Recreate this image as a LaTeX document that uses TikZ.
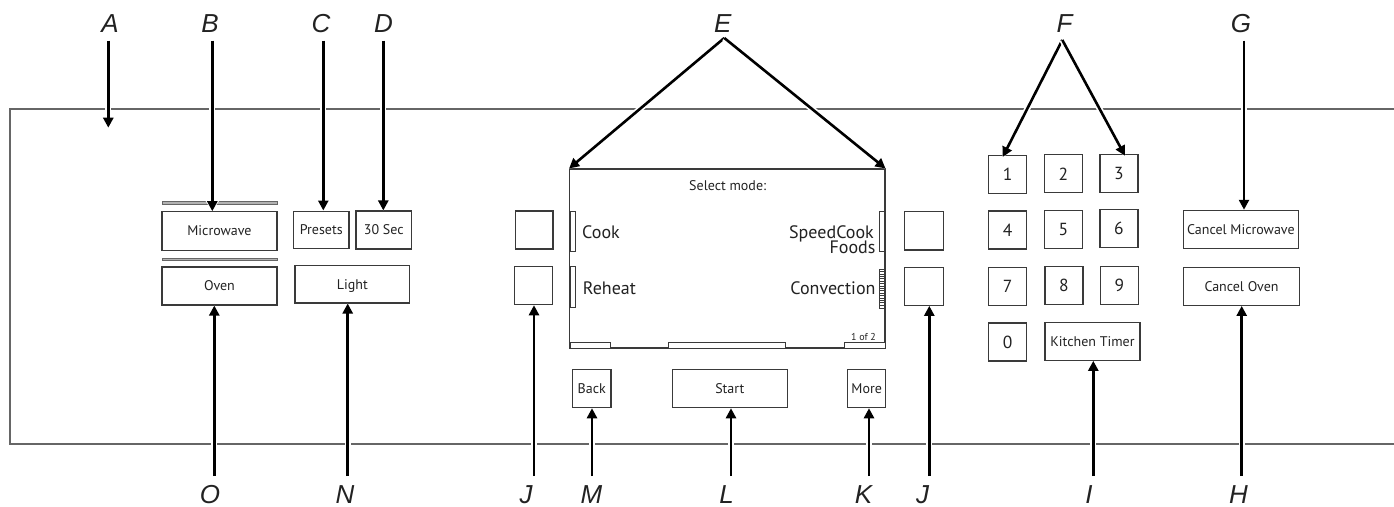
\documentclass[tikz,border=0pt]{standalone}
\usepackage{fontspec}
\setmainfont{PT Sans}
\newfontfamily\lblfont{Liberation Sans}
\usetikzlibrary{arrows.meta,calc}
\definecolor{boxc}{HTML}{3A3A3A}
\definecolor{txtc}{HTML}{222222}
\definecolor{panelc}{HTML}{666666}
\newcommand\btnfont{\fontsize{14}{16}\selectfont}
\newcommand\dispfont{\fontsize{18}{20}\selectfont}
\newcommand\digfont{\fontsize{17.5}{19}\selectfont}
\begin{document}
\begin{tikzpicture}[x=1pt,y=-1pt,
  btn/.style 2 args={draw=boxc, line width=1.1pt, inner sep=0pt, minimum width=#1pt, minimum height=#2pt, font=\btnfont, text=txtc, text height=10pt, text depth=0.2pt},
  dig/.style={btn={38}{38}, font=\digfont, text height=12.4pt, text depth=0pt},
  dtxt/.style={inner sep=0pt, font=\dispfont, text=txtc},
  lbl/.style={inner sep=0pt, anchor=base, text=txtc, font=\lblfont\itshape\fontsize{26}{26}\selectfont},
  arr/.style={line width=2.6pt, -{Triangle[length=10pt,width=10pt]},
    preaction={draw=white, line width=6pt, -{Triangle[length=12pt,width=15pt]}}},
  panel/.style={draw=panelc, line width=1.2pt},
  tab/.style={draw=boxc, line width=0.8pt, fill=white},
  bar/.style={draw=black!60, fill=black!30, line width=0.5pt}]
\useasboundingbox (0,0) rectangle (1394,506);

% panel outline (open to the right)
\draw[panel] (1395,109) -- (10,109) -- (10,444) -- (1395,444);

% left group
\draw[bar] (162,201.3) rectangle (277,204);
\draw[bar] (162,258) rectangle (277,260.7);
\node[btn={115}{38.3}] (mw) at (219.5,230.9) {Microwave};
\node[btn={115}{38}] (oven) at (219.5,286) {Oven};
\node[btn={55.3}{37.7}] (presets) at (321.3,229.9) {Presets};
\node[btn={55.7}{38}] (sec) at (383.8,230) {30 Sec};
\node[btn={114.7}{37.3}] (light) at (352.3,284.3) {Light};

% display
\node[draw=boxc, line width=1.1pt, minimum width=315.3pt, minimum height=179pt, inner sep=0pt] (disp) at (727.3,258.5) {};
\draw[tab] (570,211) rectangle (575.3,251);
\draw[tab] (570,266.7) rectangle (575.3,307);
\draw[tab] (879.3,211) rectangle (884.5,251);
\draw[tab] (879,269) rectangle (884.5,308);
\foreach \yy in {271.4,273.8,...,306.5} \draw[boxc, line width=0.6pt] (879,\yy) -- (884.5,\yy);
\draw[tab] (570,342.7) rectangle (610,348);
\draw[tab] (668,342.7) rectangle (785.7,348);
\draw[tab] (844,342.7) rectangle (885,348);
\node[dtxt, font=\btnfont, anchor=base] (tsel) at (727.7,190.7) {Select mode:};
\node[dtxt, anchor=base west] (tcook) at (582,238.3) {Cook};
\node[dtxt, anchor=base west] (treh) at (582.7,294) {Reheat};
\node[dtxt, anchor=base east, text depth=0pt] (tspeed) at (874,238.3) {SpeedCook};
\node[dtxt, anchor=base east, text height=10pt] (tfoods) at (875.7,253.6) {Foods};
\node[dtxt, anchor=base east] (tconv) at (875.7,294) {Convection};
\node[dtxt, font=\fontsize{10}{12}\selectfont, anchor=base east] (tpage) at (876,340.7) {1 of 2};

\node[btn={37.3}{38}] (sqL1) at (534.3,230) {};
\node[btn={38}{38}] (sqL2) at (533.3,285.7) {};
\node[btn={38.6}{38.3}] (sqR1) at (924,230.8) {};
\node[btn={38.6}{38}] (sqR2) at (924,286.3) {};
\node[btn={38.3}{38.4}] (back) at (591.8,388.5) {Back};
\node[btn={115}{38.4}] (start) at (729.8,388.5) {Start};
\node[btn={38}{38.4}] (more) at (866.7,388.5) {More};

% keypad
\node[dig] (k1) at (1007.7,174.5) {1};
\node[dig] (k2) at (1063.3,173.9) {2};
\node[dig] (k3) at (1119,173.3) {3};
\node[dig] (k4) at (1007.7,230) {4};
\node[dig] (k5) at (1063.3,229.3) {5};
\node[dig] (k6) at (1119,228.7) {6};
\node[dig] (k7) at (1007.7,286.2) {7};
\node[dig] (k8) at (1064,285.7) {8};
\node[dig] (k9) at (1119.5,285.7) {9};
\node[dig] (k0) at (1007.7,342) {0};
\node[btn={95}{38}] (ktimer) at (1092.5,341.3) {Kitchen Timer};
\node[btn={115.7}{38}] (cmw) at (1240.9,229.3) {Cancel Microwave};
\node[btn={115.6}{38.3}] (coven) at (1241.5,286.2) {Cancel Oven};

% labels
\node[lbl] (lA) at (110,32) {A};
\node[lbl] (lB) at (210,32) {B};
\node[lbl] (lC) at (321,32) {C};
\node[lbl] (lD) at (383.5,32) {D};
\node[lbl] (lE) at (722.8,32) {E};
\node[lbl] (lF) at (1064.5,32) {F};
\node[lbl] (lG) at (1241,32) {G};
\node[lbl] (lO) at (210,503) {O};
\node[lbl] (lN) at (345,503) {N};
\node[lbl] (lJ1) at (526,503) {J};
\node[lbl] (lM) at (591.5,503) {M};
\node[lbl] (lL) at (726.5,503) {L};
\node[lbl] (lK) at (863.5,503) {K};
\node[lbl] (lJ2) at (922.5,503) {J};
\node[lbl] (lI) at (1089,503) {I};
\node[lbl] (lH) at (1238.5,503) {H};

% arrow anchors
\coordinate (sA) at (108.3,40.5);
\coordinate (tA) at (108.3,127.7);
\coordinate (sB) at (212.3,40.5);
\coordinate (sC) at (323.3,40.5);
\coordinate (sD) at (383.3,40.5);
\coordinate (sE) at (724.3,38);
\coordinate (sF) at (1062.3,40);
\coordinate (sG) at (1244,40.5);
\coordinate (sO) at (214.3,476);
\coordinate (sN) at (347.7,476);
\coordinate (sJ1) at (534,476);
\coordinate (sM) at (592,476);
\coordinate (sL) at (731,476);
\coordinate (sK) at (869,476);
\coordinate (sJ2) at (929.3,476);
\coordinate (sI) at (1093.3,476);
\coordinate (sH) at (1241.7,476);

% arrows
\draw[arr] (sA) -- (tA);
\draw[arr] (sB) -- (sB |- mw.north);
\draw[arr] (sC) -- (sC |- presets.north);
\draw[arr] (sD) -- (sD |- sec.north);
\draw[arr] (sE) -- (disp.north west);
\draw[arr] (sE) -- (disp.north east);
\draw[arr] (sF) -- ($(k1.north)+(-5,2)$);
\draw[arr] (sF) -- ($(k3.north)+(6,2)$);
\draw[arr] (sG) -- (sG |- cmw.north);
\draw[arr] (sO) -- (sO |- oven.south);
\draw[arr] (sN) -- (sN |- light.south);
\draw[arr] (sJ1) -- (sJ1 |- sqL2.south);
\draw[arr] (sM) -- (sM |- back.south);
\draw[arr] (sL) -- (sL |- start.south);
\draw[arr] (sK) -- (sK |- more.south);
\draw[arr] (sJ2) -- (sJ2 |- sqR2.south);
\draw[arr] (sI) -- (sI |- ktimer.south);
\draw[arr] (sH) -- (sH |- coven.south);
\end{tikzpicture}
\end{document}
